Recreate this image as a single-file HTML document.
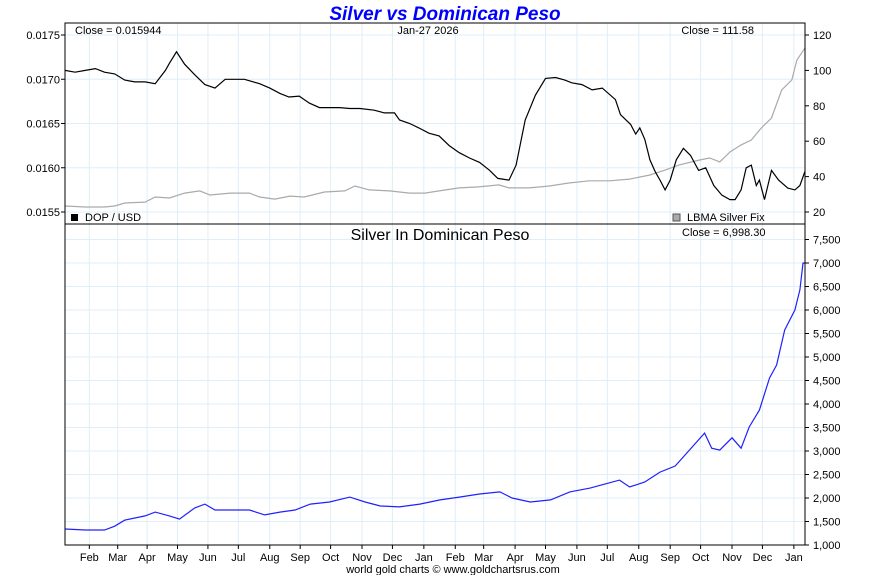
<!DOCTYPE html>
<html><head><meta charset="utf-8"><style>
body{margin:0;background:#fff;width:890px;height:575px;overflow:hidden;font-family:"Liberation Sans",sans-serif}
svg text{font-family:"Liberation Sans",sans-serif}
</style></head><body>
<svg id="c" width="890" height="575" xmlns="http://www.w3.org/2000/svg"></svg>
<script>
// Data (day offsets from Jan 27 2024)
const dopDays=[0,10,20,30,39,49,59,69,79,89,99,103,110,118,128,138,148,158,168,177,192,202,212,221,231,241,251,261,271,281,291,305,315,325,330,340,349,359,369,379,389,399,409,419,427,438,445,454,464,474,484,493,500,510,520,530,543,548,558,563,567,572,577,582,587,592,597,603,610,617,625,632,640,648,656,661,667,672,677,682,685,690,697,704,713,720,725,730];
const dopVals=[.01710,.01708,.01710,.01712,.01708,.01706,.01699,.01697,.01697,.01695,.01710,.01718,.01731,.01717,.01705,.01694,.01690,.01700,.01700,.01700,.01695,.01690,.01684,.01680,.01681,.01673,.01668,.01668,.01668,.01667,.01667,.01665,.01662,.01662,.01654,.01650,.01645,.01639,.01636,.01625,.01617,.01611,.01606,.01597,.01588,.01586,.01603,.01654,.01682,.01701,.01702,.01699,.01696,.01694,.01688,.01690,.01677,.01660,.01649,.01638,.01645,.01632,.01609,.01596,.01586,.01575,.01586,.01609,.01622,.01614,.01597,.01600,.01580,.01569,.01564,.01564,.01575,.01600,.01603,.01580,.01586,.01564,.01597,.01586,.01577,.01575,.01580,.01596,.01591];
const agDays=[0,20,39,49,59,79,89,103,118,133,143,163,182,192,207,222,236,256,276,286,300,320,340,355,369,389,408,428,438,458,478,497,517,537,557,577,592,606,626,636,646,656,667,677,687,697,707,717,722,730];
const agVals=[23.4,22.8,22.8,23.4,25.1,25.6,28.5,27.9,30.7,31.9,29.6,30.7,30.7,28.5,27.3,29,28.5,31.3,31.9,34.7,32.5,31.9,30.7,30.7,31.9,33.6,34.2,35.3,33.6,33.6,34.7,36.4,37.6,37.6,38.6,40.9,43.7,46.6,49.4,50.5,48.3,53.9,57.9,60.7,67.5,73.1,88.9,94.6,105.9,112.7];
const dopAgDays=[0,20,39,49,59,79,89,103,113,128,138,148,163,182,197,212,227,242,261,281,296,311,330,350,370,389,409,429,441,459,479,498,518,533,547,557,572,587,602,616,631,638,646,658,667,675,685,695,702,710,720,725,728,730];
const dopAgVals=[1340,1320,1320,1400,1530,1620,1700,1620,1550,1790,1870,1745,1745,1745,1640,1700,1745,1870,1915,2020,1915,1830,1810,1870,1960,2020,2085,2130,2000,1915,1960,2130,2210,2300,2380,2235,2340,2550,2680,3020,3380,3060,3020,3280,3060,3510,3870,4550,4830,5575,6000,6430,7000,6998];
const monthLabels=["Feb","Mar","Apr","May","Jun","Jul","Aug","Sep","Oct","Nov","Dec","Jan","Feb","Mar","Apr","May","Jun","Jul","Aug","Sep","Oct","Nov","Dec","Jan"];
const monthDays=[24,52,81,111,141,171,202,232,262,293,323,354,385,413,444,474,505,535,566,597,627,658,688,719];
const leftTicks=[0.0155,0.0160,0.0165,0.0170,0.0175];
const rightTicks=[20,40,60,80,100,120];
const bottomTicks=[1000,1500,2000,2500,3000,3500,4000,4500,5000,5500,6000,6500,7000,7500];

const S=document.getElementById('c'),NS="http://www.w3.org/2000/svg";
function el(t,a,txt){const e=document.createElementNS(NS,t);for(const k in a)e.setAttribute(k,a[k]);if(txt!==undefined)e.textContent=txt;S.appendChild(e);return e;}
const L=65,R=805,T1=23,B1=224,B2=545;
const xd=d=>L+d*(R-L)/730;
const yL=v=>35+(0.0175-v)/0.0005*44.25;
const yR=v=>35+(120-v)/100*177;
const yB=v=>545-(v-1000)/500*23.5;

monthDays.forEach((d,i)=>{let g=el('line',{x1:xd(d),x2:xd(d),y1:T1,y2:B2,stroke:'#dfeef8','stroke-width':1});
});
leftTicks.forEach(v=>{let g=el('line',{x1:L,x2:R,y1:yL(v),y2:yL(v),stroke:'#dfeef8'});});
bottomTicks.forEach(v=>{let g=el('line',{x1:L,x2:R,y1:yB(v),y2:yB(v),stroke:'#dfeef8'});});

function path(days,vals,fy,col,name){let d='';days.forEach((x,i)=>{d+=(i?'L':'M')+xd(x).toFixed(1)+','+fy(vals[i]).toFixed(1);});
const p=el('path',{d:d,fill:'none',stroke:col,'stroke-width':1.2});
}
path(agDays,agVals,yR,'#aaaaaa','silver-fix-line');
path(dopDays,dopVals,yL,'#000','dop-usd-line');
path(dopAgDays,dopAgVals,yB,'#2020ff','silver-in-dop-line');

let f=el('rect',{x:L,y:T1,width:R-L,height:B2-T1,fill:'none',stroke:'#000'});
let dv=el('line',{x1:L,x2:R,y1:B1,y2:B1,stroke:'#000'});

leftTicks.forEach(v=>{el('line',{x1:L-4,x2:L,y1:yL(v),y2:yL(v),stroke:'#000'});
let t=el('text',{x:L-5,y:yL(v)+4,'font-size':11,'text-anchor':'end'},v.toFixed(4));});
rightTicks.forEach(v=>{el('line',{x1:R,x2:R+4,y1:yR(v),y2:yR(v),stroke:'#000'});
let t=el('text',{x:R+8,y:yR(v)+4,'font-size':11},String(v));});
bottomTicks.forEach(v=>{el('line',{x1:R,x2:R+4,y1:yB(v),y2:yB(v),stroke:'#000'});
let t=el('text',{x:R+8,y:yB(v)+4,'font-size':11},v.toLocaleString('en-US'));});
monthDays.forEach((d,i)=>{el('line',{x1:xd(d),x2:xd(d),y1:B2,y2:B2+4,stroke:'#000'});
let t=el('text',{x:xd(d),y:B2+16,'font-size':11,'text-anchor':'middle'},monthLabels[i]);});

function txt(x,y,s,size,name,extra){const a=Object.assign({x:x,y:y,'font-size':size},extra||{});const t=el('text',a,s);}
txt(445,20,'Silver vs Dominican Peso',19,'chart-title',{'text-anchor':'middle','font-weight':'bold','font-style':'italic',fill:'#0000ff'});
txt(75,34,'Close = 0.015944',11,'dop-close-label');
txt(428,34,'Jan-27  2026',11,'date-label',{'text-anchor':'middle'});
txt(754,34,'Close = 111.58',11,'silver-close-label',{'text-anchor':'end'});
el('rect',{x:71,y:214,width:7,height:7,fill:'#000'});
txt(85,221,'DOP / USD',11,'dop-legend');
el('rect',{x:673,y:214,width:7,height:7,fill:'#aaa',stroke:'#555'});
txt(687,221,'LBMA Silver Fix',11,'silver-legend');
txt(440,240,'Silver In Dominican Peso',16,'bottom-panel-title',{'text-anchor':'middle'});
txt(682,236,'Close = 6,998.30',11,'bottom-close-label');
txt(453,573,'world gold charts © www.goldchartsrus.com',11,'footer-credit',{'text-anchor':'middle'});
</script>
</body></html>
